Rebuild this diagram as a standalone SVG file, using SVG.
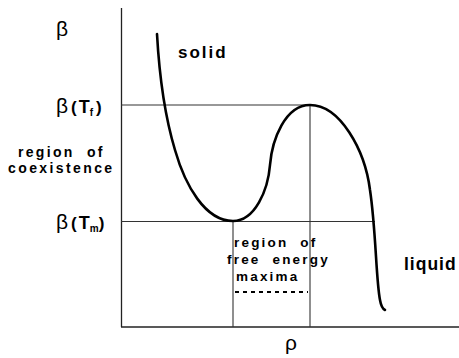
<svg xmlns="http://www.w3.org/2000/svg" width="459" height="358" viewBox="0 0 459 358">
<style>
.ax{stroke:#222;stroke-width:1.3;fill:none}
.gl{stroke:#333;stroke-width:1.1;fill:none}
.cv{stroke:#000;stroke-width:2.6;fill:none;stroke-linecap:round}
.lb{font-family:"Liberation Sans",Arial,sans-serif;font-weight:bold;fill:#000}
.sym{font-family:"Liberation Sans",Arial,sans-serif;fill:#000}
</style>
<rect width="459" height="358" fill="#fff"/>
<g id="axes">
<line class="ax" x1="121.5" y1="8" x2="121.5" y2="327"/>
<line class="ax" x1="121" y1="327" x2="459" y2="327"/>
</g>
<g id="connectors">
<line class="gl" x1="121" y1="105" x2="310" y2="105"/>
<line class="gl" x1="121" y1="221.5" x2="375" y2="221.5"/>
<line class="gl" x1="233" y1="221" x2="233" y2="327"/>
<line class="gl" x1="310" y1="105" x2="310" y2="327"/>
<line x1="235" y1="292" x2="308" y2="292" stroke="#000" stroke-width="2" stroke-dasharray="4,4"/>
</g>
<g id="curve">
<path class="cv" d="M157,34 C159,70 163,110 175,150 C185,185 205,221 233,221 C255,221 268,190 270,165 C272,140 285,105 310,105 C340,105 365,150 370,190 C376,230 376,280 380,300 C381,306 383,309 385,310"/>
</g>
<g id="beta-axis"><text class="sym" x="56" y="36" font-size="21">β</text></g>
<g id="beta-tf"><text class="sym" x="56" y="113" font-size="21">β<tspan class="lb" font-size="17" dx="3">(</tspan><tspan class="lb" font-size="18" dx="2">T</tspan><tspan class="lb" font-size="10" dy="3">f</tspan><tspan class="lb" font-size="17" dx="3" dy="-3">)</tspan></text></g>
<g id="beta-tm"><text class="sym" x="56" y="229" font-size="21">β<tspan class="lb" font-size="17" dx="3">(</tspan><tspan class="lb" font-size="18" dx="2">T</tspan><tspan class="lb" font-size="10" dy="3">m</tspan><tspan class="lb" font-size="17" dy="-3">)</tspan></text></g>
<g id="coexist">
<text class="lb" x="18" y="157" font-size="14" letter-spacing="2.3" xml:space="preserve">region  of</text>
<text class="lb" x="8" y="173" font-size="14" letter-spacing="2.4">coexistence</text>
</g>
<g id="solid"><text class="lb" x="178" y="58" font-size="17" letter-spacing="2">solid</text></g>
<g id="liquid"><text class="lb" x="404" y="270" font-size="17.5" letter-spacing="1">liquid</text></g>
<g id="maxima">
<text class="lb" x="234" y="247" font-size="13.5" letter-spacing="2.2" xml:space="preserve">region  of</text>
<text class="lb" x="227" y="264" font-size="13.5" letter-spacing="2.2" xml:space="preserve">free  energy</text>
<text class="lb" x="236" y="281" font-size="13.5" letter-spacing="2.2">maxima</text>
</g>
<g id="rho"><text class="sym" x="285" y="350" font-size="21">ρ</text></g>
</svg>
